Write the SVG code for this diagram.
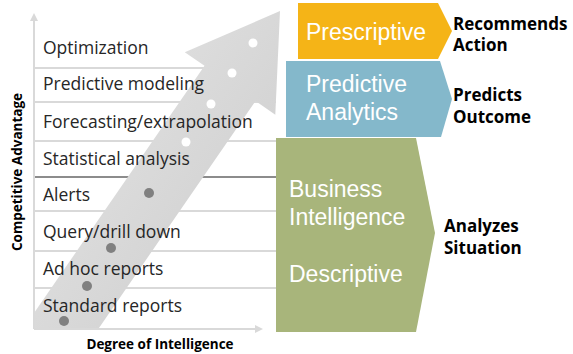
<svg xmlns="http://www.w3.org/2000/svg" width="573" height="354" viewBox="0 0 573 354">
  <defs>
    <style>
      .row { font-family: "Open Sans", "Noto Sans", sans-serif; font-size: 17.5px; fill: #262626; }
      .grid { stroke: #D9D9D9; stroke-width: 2; }
      .axis { stroke: #D9D9D9; stroke-width: 2; fill: none; }
      .axis-label { font-family: "Open Sans", "Noto Sans", sans-serif; font-size: 13.5px; font-weight: bold; fill: #000; }
      .box-text { font-family: "Liberation Sans", Arial, sans-serif; font-size: 23px; fill: #FFFFFF; }
      .outcome { font-family: "Open Sans", "Noto Sans", sans-serif; font-size: 17px; font-weight: bold; fill: #000; }
      .dot-light { fill: #FFFFFF; }
      .dot-dark { fill: #808080; }
    </style>
    <clipPath id="plot-area">
      <rect x="34" y="0" width="260" height="329"/>
    </clipPath>
    <linearGradient id="arrow-fill" x1="0" y1="0" x2="0" y2="1">
      <stop offset="0" stop-color="#DCDCDC"/>
      <stop offset="1" stop-color="#D4D4D4"/>
    </linearGradient>
  </defs>

  <!-- row separators -->
  <g id="grid">
    <line class="grid" x1="34" y1="68" x2="276" y2="68"/>
    <line class="grid" x1="34" y1="102" x2="276" y2="102"/>
    <line class="grid" x1="34" y1="141" x2="276" y2="141"/>
    <line x1="34" y1="177" x2="276" y2="177" stroke="#8C8C8C" stroke-width="2"/>
    <line class="grid" x1="34" y1="211" x2="276" y2="211"/>
    <line class="grid" x1="34" y1="251" x2="276" y2="251"/>
    <line class="grid" x1="34" y1="288" x2="276" y2="288"/>
  </g>

  <!-- rising arrow -->
  <g id="progress-arrow" clip-path="url(#plot-area)">
    <polygon transform="translate(280,11) rotate(-55.4)" fill="url(#arrow-fill)"
             points="0,0 -88,-55 -88,-31 -440,-31 -440,31 -88,31 -88,55"/>
  </g>
  <g id="arrow-dots">
    <circle class="dot-light" cx="253" cy="43" r="4.5"/>
    <circle class="dot-light" cx="232" cy="73" r="4.5"/>
    <circle class="dot-light" cx="211" cy="104" r="4.5"/>
    <circle class="dot-light" cx="186" cy="142" r="4.5"/>
    <circle class="dot-dark" cx="149" cy="193" r="5"/>
    <circle class="dot-dark" cx="111" cy="248" r="5"/>
    <circle class="dot-dark" cx="87" cy="286" r="5"/>
    <circle class="dot-dark" cx="64" cy="321" r="5"/>
  </g>

  <!-- axes -->
  <g id="axes">
    <line class="axis" x1="34" y1="329" x2="34" y2="20"/>
    <polygon points="34,13 30,21 38,21" fill="#D9D9D9"/>
    <line class="axis" x1="34" y1="329" x2="256" y2="329"/>
    <polygon points="263,329 255,325 255,333" fill="#D9D9D9"/>
    <text class="axis-label" transform="translate(22,172) rotate(-90)" text-anchor="middle">Competitive Advantage</text>
    <text class="axis-label" x="160" y="349" text-anchor="middle">Degree of Intelligence</text>
  </g>

  <!-- capability rows -->
  <g id="rows">
    <text class="row" x="43" y="54">Optimization</text>
    <text class="row" x="43" y="90">Predictive modeling</text>
    <text class="row" x="43" y="128">Forecasting/extrapolation</text>
    <text class="row" x="43" y="165">Statistical analysis</text>
    <text class="row" x="43" y="201">Alerts</text>
    <text class="row" x="43" y="238">Query/drill down</text>
    <text class="row" x="43" y="275">Ad hoc reports</text>
    <text class="row" x="43" y="312">Standard reports</text>
  </g>

  <!-- analytics tiers -->
  <g id="tier-descriptive">
    <polygon points="276,138 416,138 435,233 416,332 276,332" fill="#A8B57B"/>
    <text class="box-text" x="289" y="197">Business</text>
    <text class="box-text" x="289" y="225">Intelligence</text>
    <text class="box-text" x="289" y="282">Descriptive</text>
  </g>
  <g id="tier-predictive">
    <polygon points="286,61 440,61 452,99 441,137 286,137" fill="#84B8CB"/>
    <text class="box-text" x="306" y="92">Predictive</text>
    <text class="box-text" x="306" y="120">Analytics</text>
  </g>
  <g id="tier-prescriptive">
    <polygon points="298,3 438,3 452,31 438,59 298,59" fill="#F5B417"/>
    <text class="box-text" x="306" y="40">Prescriptive</text>
  </g>

  <!-- outcomes -->
  <g id="outcome-prescriptive">
    <text class="outcome" x="453" y="30">Recommends</text>
    <text class="outcome" x="453" y="51">Action</text>
  </g>
  <g id="outcome-predictive">
    <text class="outcome" x="453" y="101">Predicts</text>
    <text class="outcome" x="453" y="123">Outcome</text>
  </g>
  <g id="outcome-descriptive">
    <text class="outcome" x="444" y="232">Analyzes</text>
    <text class="outcome" x="444" y="254">Situation</text>
  </g>
</svg>
